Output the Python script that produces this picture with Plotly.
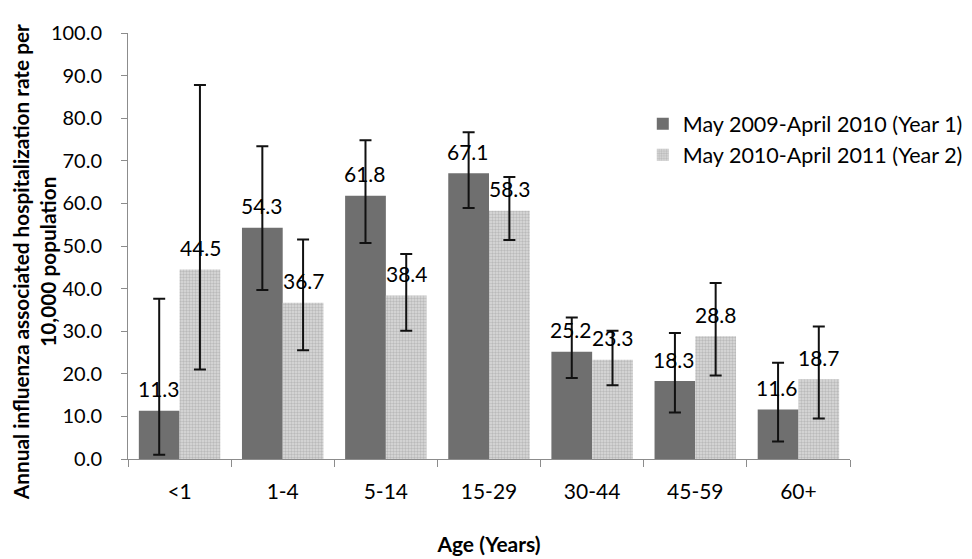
import plotly.graph_objects as go

categories = ["<1", "1-4", "5-14", "15-29", "30-44", "45-59", "60+"]
year1 = [11.3, 54.3, 61.8, 67.1, 25.2, 18.3, 11.6]
year2 = [44.5, 36.7, 38.4, 58.3, 23.3, 28.8, 18.7]
year1_upper = [37.6, 73.4, 74.8, 76.7, 33.2, 29.6, 22.6]
year1_lower = [1.0, 39.7, 50.7, 58.9, 19.0, 10.9, 4.1]
year2_upper = [87.8, 51.5, 48.1, 66.2, 30.1, 41.3, 31.1]
year2_lower = [21.0, 25.5, 30.1, 51.4, 17.3, 19.6, 9.5]
series_names = ["May 2009-April 2010 (Year 1)", "May 2010-April 2011 (Year 2)"]

FONT = "Lato"

def err(vals, up, lo):
    return dict(type="data", symmetric=False,
                array=[u - v for u, v in zip(up, vals)],
                arrayminus=[v - l for v, l in zip(vals, lo)],
                color="#111111", thickness=2, width=6)

fig = go.Figure()
fig.add_trace(go.Bar(
    x=categories, y=year1, name=series_names[0],
    marker=dict(color="#6f6f6f", line=dict(width=0)),
    error_y=err(year1, year1_upper, year1_lower),
))
fig.add_trace(go.Bar(
    x=categories, y=year2, name=series_names[1],
    marker=dict(color="#dcdcdc", line=dict(width=0),
                pattern=dict(shape=".", fgcolor="#979797", bgcolor="#dcdcdc",
                             size=3, solidity=0.5)),
    error_y=err(year2, year2_upper, year2_lower),
))

for vals, shift in ((year1, -21), (year2, 21)):
    for c, v in zip(categories, vals):
        fig.add_annotation(x=c, y=v, text=f"{v:.1f}", showarrow=False,
                           xshift=shift, yshift=22, yanchor="middle",
                           font=dict(family=FONT, size=21, color="#000000"))

fig.add_annotation(
    xref="paper", yref="paper", x=-0.131, y=0.463, xanchor="center", yanchor="middle",
    text="<b>Annual influenza associated hospitalization rate per<br>10,000 population</b>",
    textangle=-90, showarrow=False,
    font=dict(family=FONT, size=20.8, color="#000000"))

fig.update_layout(
    width=972, height=559,
    margin=dict(l=120, r=109, t=21, b=108),
    paper_bgcolor="white", plot_bgcolor="white",
    barmode="group", bargap=0.21, bargroupgap=0,
    font=dict(family=FONT, size=21, color="#000000"),
    legend=dict(x=0.713, y=0.835, xanchor="left", yanchor="top",
                font=dict(family=FONT, size=21.5), itemsizing="constant",
                tracegroupgap=2, bgcolor="rgba(0,0,0,0)"),
    xaxis=dict(
        showline=True, linecolor="#8c8c8c", linewidth=1,
        ticks="outside", tickson="boundaries", ticklen=7, tickcolor="#8c8c8c",
        ticklabelstandoff=14,
        title=dict(text="<b>Age (Years)</b>", font=dict(family=FONT, size=21), standoff=35),
    ),
    yaxis=dict(
        range=[0, 100], dtick=10, tickformat=".1f",
        showline=True, linecolor="#8c8c8c", linewidth=1,
        ticks="outside", ticklen=6, tickcolor="#8c8c8c",
        showgrid=False, zeroline=False,
        tickfont=dict(size=20),
        ticklabelstandoff=15,
    ),
)

fig.write_html("out.html")
